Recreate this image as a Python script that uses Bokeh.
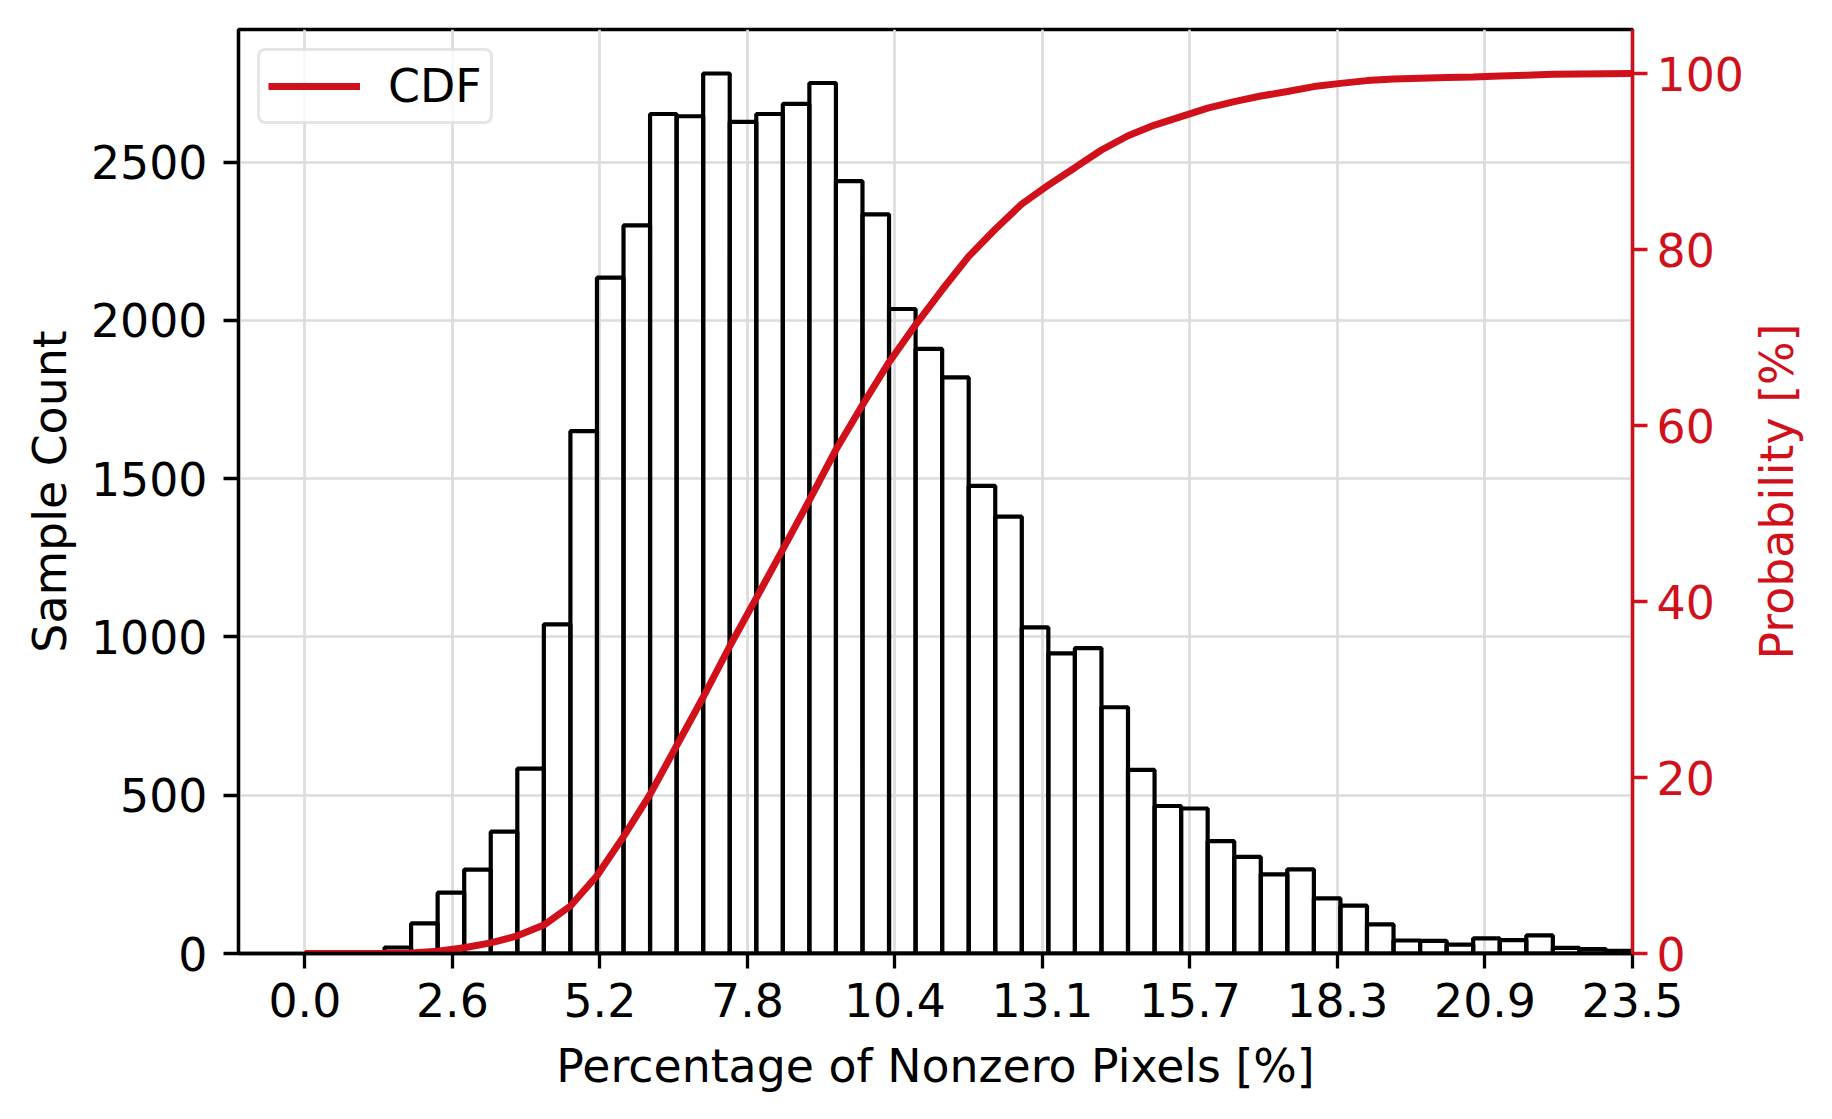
import numpy as np
from bokeh.plotting import figure
from bokeh.layouts import row
from bokeh.models import (Range1d, LinearAxis, FixedTicker, Legend, LegendItem,
                          ColumnDataSource, CustomJSTickFormatter)
from bokeh.embed import file_html
from bokeh.resources import INLINE

# ---------------- data ----------------
hist_start = 0.0
hist_end = 23.5
n_bins = 50
counts = [1, 3, 4, 19, 95, 192, 265, 385, 584, 1040,
          1650, 2135, 2300, 2652, 2645, 2780, 2627, 2652, 2684, 2750,
          2440, 2335, 2036, 1910, 1820, 1477, 1380, 1030, 948, 965,
          778, 580, 466, 458, 355, 305, 250, 266, 174, 151,
          92, 41, 40, 28, 48, 42, 57, 18, 14, 8]
x_tick_labels = ["0.0", "2.6", "5.2", "7.8", "10.4", "13.1", "15.7", "18.3", "20.9", "23.5"]
y_left_ticks = [0, 500, 1000, 1500, 2000, 2500]
y_right_ticks = [0, 20, 40, 60, 80, 100]

RED = "#d0101a"
FONT = "DejaVu Sans"
FS = "45.8px"

edges = np.linspace(hist_start, hist_end, n_bins + 1)
x_ticks = [float(v) for v in np.linspace(hist_start, hist_end, len(x_tick_labels))]
counts_arr = np.array(counts, dtype=float)
cdf = np.concatenate([[0.0], np.cumsum(counts_arr) / counts_arr.sum() * 100.0])

bars = ColumnDataSource(dict(left=edges[:-1], right=edges[1:], top=counts_arr))
line_src = ColumnDataSource(dict(x=edges, y=cdf))

FRAME_W, FRAME_H = 1394, 924
TOP, BOTTOM = 29, 152

p = figure(frame_width=FRAME_W, frame_height=FRAME_H,
           min_border_left=238, min_border_right=114,
           min_border_top=TOP, min_border_bottom=BOTTOM,
           x_range=Range1d(-1.175, 23.5), y_range=Range1d(0, 2919),
           output_backend="svg", toolbar_location=None,
           background_fill_color="white", border_fill_color="white")

p.extra_y_ranges = {"prob": Range1d(0, 105)}

# grid
p.xgrid.ticker = FixedTicker(ticks=x_ticks)
p.ygrid.ticker = FixedTicker(ticks=y_left_ticks)
for g in (p.xgrid, p.ygrid):
    g.grid_line_color = "#dcdcdc"
    g.grid_line_width = 2.7

# bars
p.quad(left="left", right="right", bottom=0, top="top", source=bars,
       fill_color="white", fill_alpha=0.0, line_color="black", line_width=4.2)

# CDF line
cdf_r = p.line(x="x", y="y", source=line_src, y_range_name="prob",
               line_color=RED, line_width=7)

# outline
p.outline_line_color = "black"
p.outline_line_width = 3.3
p.outline_line_alpha = 1.0

# x axis
xa = p.xaxis[0]
xa.ticker = FixedTicker(ticks=x_ticks)
xa.formatter = CustomJSTickFormatter(args=dict(tvals=x_ticks, tlabels=x_tick_labels), code="""
let best = 0;
for (let k = 0; k < tvals.length; k++) {
  if (Math.abs(tvals[k] - tick) < Math.abs(tvals[best] - tick)) best = k;
}
return tlabels[best];
""")
xa.axis_label = "Percentage of Nonzero Pixels [%]"

# left y axis
ya = p.yaxis[0]
ya.ticker = FixedTicker(ticks=y_left_ticks)
ya.axis_label = "Sample Count"

for ax in (xa, ya):
    ax.axis_line_color = "black"
    ax.axis_line_width = 3.3
    ax.major_tick_line_color = "black"
    ax.major_tick_line_width = 3.3
    ax.major_tick_out = 15
    ax.major_tick_in = 0
    ax.minor_tick_line_color = None
    ax.major_label_text_font = FONT
    ax.major_label_text_font_size = FS
    ax.major_label_text_color = "black"
    ax.axis_label_text_font = FONT
    ax.axis_label_text_font_size = FS
    ax.axis_label_text_font_style = "normal"
    ax.axis_label_text_color = "black"

xa.major_label_standoff = 14
xa.axis_label_standoff = 19
ya.major_label_standoff = 16
ya.axis_label_standoff = 11

# right y axis (ticks and numbers)
ra = LinearAxis(y_range_name="prob", ticker=FixedTicker(ticks=y_right_ticks))
ra.axis_line_color = RED
ra.axis_line_width = 3.3
ra.major_tick_line_color = RED
ra.major_tick_line_width = 3.3
ra.major_tick_out = 15
ra.major_tick_in = 0
ra.minor_tick_line_color = None
ra.major_label_text_font = FONT
ra.major_label_text_font_size = FS
ra.major_label_text_color = RED
ra.major_label_standoff = 9
p.add_layout(ra, "right")

# legend
legend = Legend(items=[LegendItem(label="CDF", renderers=[cdf_r])],
                location="top_left")
legend.label_text_font = FONT
legend.label_text_font_size = FS
legend.label_text_color = "black"
legend.glyph_width = 92
legend.glyph_height = 40
legend.label_height = 40
legend.label_standoff = 28
legend.padding = 8
legend.margin = 19
legend.spacing = 0
legend.border_line_color = "#cccccc"
legend.border_line_width = 3
legend.background_fill_color = "white"
legend.background_fill_alpha = 0.8
try:
    legend.border_radius = 8
except Exception:
    pass
p.add_layout(legend)

# right-hand title "Probability [%]" (reads bottom-to-top), drawn as the
# axis label of a slim companion panel placed just right of the chart
q = figure(frame_width=4, frame_height=FRAME_H,
           min_border_left=50, min_border_right=0,
           min_border_top=TOP, min_border_bottom=BOTTOM,
           x_range=Range1d(0, 1), y_range=Range1d(0, 105),
           output_backend="svg", toolbar_location=None,
           background_fill_color="white", border_fill_color="white")
q.outline_line_color = None
q.xaxis.visible = False
q.grid.visible = False
qa = q.yaxis[0]
qa.ticker = FixedTicker(ticks=[])
qa.axis_line_color = None
qa.major_tick_line_color = None
qa.minor_tick_line_color = None
qa.major_tick_out = 0
qa.major_label_text_font_size = "0px"
qa.major_label_standoff = 0
qa.axis_label = "Probability [%]"
qa.axis_label_text_font = FONT
qa.axis_label_text_font_size = FS
qa.axis_label_text_font_style = "normal"
qa.axis_label_text_color = RED
qa.axis_label_standoff = 6

layout = row(p, q, spacing=0)

open("out.html", "w").write(file_html(layout, INLINE))
